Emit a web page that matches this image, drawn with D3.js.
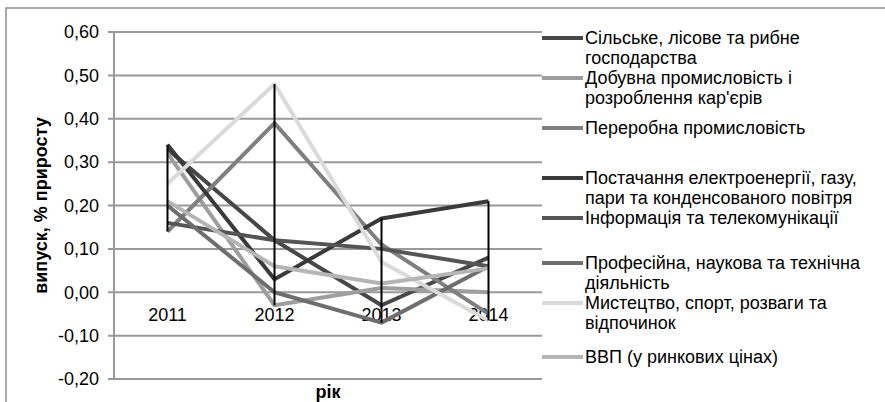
<!DOCTYPE html>
<html><head><meta charset="utf-8">
<script src="https://cdn.jsdelivr.net/npm/d3@7"></script>
<style>html,body{margin:0;padding:0;background:#fff;}svg{display:block;font-family:"Liberation Sans",Arial,sans-serif;}</style>
</head><body>
<svg id="c" width="885" height="402"></svg>
<script>
const years = ["2011","2012","2013","2014"];
const seriesNames = [
  ["Сільське, лісове та рибне","господарства"],
  ["Добувна промисловість і","розроблення кар'єрів"],
  ["Переробна промисловість"],
  ["Постачання електроенергії, газу,","пари та конденсованого повітря"],
  ["Інформація та телекомунікації"],
  ["Професійна, наукова та технічна","діяльність"],
  ["Мистецтво, спорт, розваги та","відпочинок"],
  ["ВВП (у ринкових цінах)"]
];
const sAgri   = [0.33, 0.12, -0.03, 0.08];
const sMining = [0.32, -0.03, 0.01, 0.00];
const sManuf  = [0.14, 0.39, 0.11, -0.05];
const sEnergy = [0.34, 0.03, 0.17, 0.21];
const sInfo   = [0.16, 0.12, 0.10, 0.06];
const sProf   = [0.20, 0.00, -0.07, 0.06];
const sArts   = [0.25, 0.48, 0.07, -0.065];
const sGdp    = [0.21, 0.06, 0.02, 0.055];
const yTicks = [-0.2,-0.1,0,0.1,0.2,0.3,0.4,0.5,0.6];
const yTitle = "випуск, % приросту";
const xTitle = "рік";

const seriesValues = [sAgri,sMining,sManuf,sEnergy,sInfo,sProf,sArts,sGdp];
const colors = ["#474747","#9e9e9e","#7f7f7f","#3a3a3a","#555555","#6e6e6e","#dadada","#b5b5b5"];
const FS = 18;

const svg = d3.select("#c");
svg.append("rect").attr("x",6).attr("y",8).attr("width",900).attr("height",420)
  .attr("fill","#fff").attr("stroke","#8c8c8c").attr("stroke-width",1.5);

const x = d3.scaleBand().domain(years).range([114,542]);
const y = d3.scaleLinear().domain([-0.2,0.6]).range([379,32]);
const fmt = v => d3.format(".2f")(v).replace(".",",").replace("−","-");

// gridlines
svg.append("g").selectAll("line").data(yTicks).join("line")
  .attr("x1",108).attr("x2",542).attr("y1",d=>y(d)).attr("y2",d=>y(d))
  .attr("stroke","#999").attr("stroke-width",2);
svg.append("line").attr("x1",114).attr("x2",114).attr("y1",y(0.6)).attr("y2",y(-0.2))
  .attr("stroke","#999").attr("stroke-width",2);

// y labels
svg.append("g").selectAll("text").data(yTicks).join("text")
  .attr("x",99).attr("y",d=>y(d)).attr("dy","0.35em").attr("text-anchor","end")
  .attr("font-size",FS).attr("fill","#000").text(fmt);

// x labels
svg.append("g").selectAll("text").data(years).join("text")
  .attr("x",d=>x(d)+x.bandwidth()/2).attr("y",321).attr("text-anchor","middle")
  .attr("font-size",FS).attr("fill","#000").text(d=>d);

// series
const line = d3.line().x((d,i)=>x(years[i])+x.bandwidth()/2).y(d=>y(d));
svg.append("g").selectAll("path").data(seriesValues).join("path")
  .attr("d",line).attr("fill","none").attr("stroke",(d,i)=>colors[i])
  .attr("stroke-width",4).attr("stroke-linejoin","round");

// high-low lines
svg.append("g").selectAll("line").data(years).join("line")
  .attr("x1",(d)=>x(d)+x.bandwidth()/2).attr("x2",(d)=>x(d)+x.bandwidth()/2)
  .attr("y1",(d,i)=>y(d3.max(seriesValues,s=>s[i])))
  .attr("y2",(d,i)=>y(d3.min(seriesValues,s=>s[i])))
  .attr("stroke","#000").attr("stroke-width",2);

// axis titles
svg.append("text").attr("transform",`translate(47,${(y(0.6)+y(-0.2))/2}) rotate(-90)`)
  .attr("text-anchor","middle").attr("font-size",FS).attr("font-weight","bold").text(yTitle);
svg.append("text").attr("x",(114+542)/2).attr("y",398).attr("text-anchor","middle")
  .attr("font-size",FS).attr("font-weight","bold").text(xTitle);

// legend
const legendFirstY = [38,78,128,178,218,263,303,357];
const lg = svg.append("g");
seriesNames.forEach((lines,i)=>{
  const y0 = legendFirstY[i];
  lg.append("line").attr("x1",542).attr("x2",583).attr("y1",y0).attr("y2",y0)
    .attr("stroke",colors[i]).attr("stroke-width",4);
  lines.forEach((t,j)=>{
    lg.append("text").attr("x",585).attr("y",y0+20*j).attr("dy","0.35em")
      .attr("font-size",FS).attr("fill","#000").text(t);
  });
});
</script>
</body></html>
